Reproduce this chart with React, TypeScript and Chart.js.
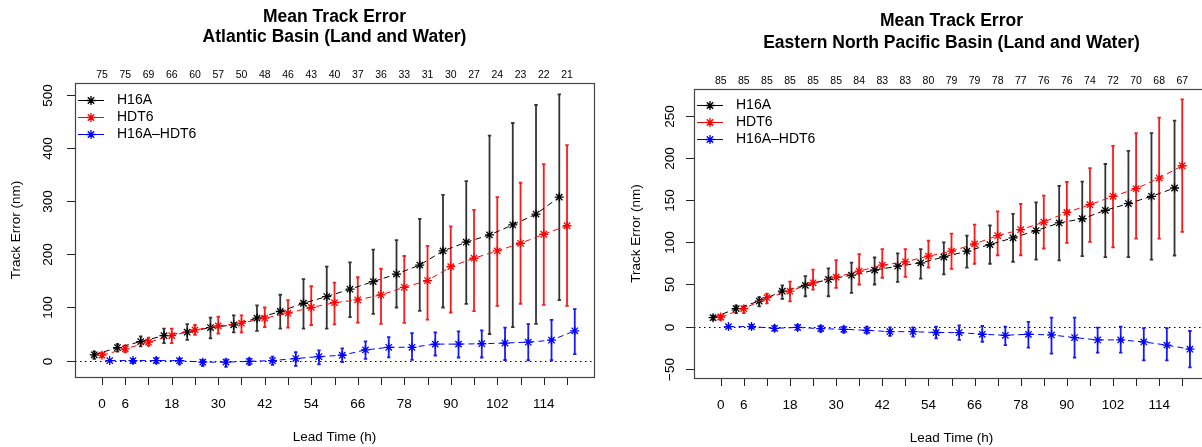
import React, { useEffect, useRef } from "react";
import { Chart, registerables } from "chart.js";

Chart.register(...registerables);

// ---------- data ----------
const leadTimes = [0, 6, 12, 18, 24, 30, 36, 42, 48, 54, 60, 66, 72, 78, 84, 90, 96, 102, 108, 114, 120];
const xTickValues = [0, 6, 12, 18, 24, 30, 36, 42, 48, 54, 60, 66, 72, 78, 84, 90, 96, 102, 108, 114, 120];
const xTickLabelValues = [0, 6, 18, 30, 42, 54, 66, 78, 90, 102, 114];

const atlCounts = [75, 75, 69, 66, 60, 57, 50, 48, 46, 43, 40, 37, 36, 33, 31, 30, 27, 24, 23, 22, 21];
const epacCounts = [85, 85, 85, 85, 85, 85, 84, 83, 83, 80, 79, 79, 78, 77, 76, 76, 74, 72, 70, 68, 67];

const atlYTicks = [0, 100, 200, 300, 400, 500];
const epacYTicks = [-50, 0, 50, 100, 150, 200, 250];

// Atlantic
const atlH16A = [10.8, 24.5, 35.8, 47, 53.4, 62.2, 67.2, 79.8, 92.4, 108, 120.6, 134.4, 148.8, 163, 180, 206.6, 223, 236.7, 255.6, 276, 308];
const atlH16ALo = [3, 17, 26.8, 33, 39, 42, 53, 56, 60, 60, 60, 81.7, 88, 100, 93.6, 100, 106.8, 50, 63, 69, 114];
const atlH16AHi = [17, 31, 45.7, 60, 68.5, 81, 85, 104, 124, 153.5, 177, 185, 209, 227, 267, 312, 338, 424, 447.6, 481.5, 501.7];
const atlHDT6 = [10.1, 22, 34.6, 47, 57.8, 65.3, 70.4, 79.8, 89.2, 100, 109, 114.3, 123.7, 138, 150.7, 177, 192.8, 206.6, 221, 238, 254];
const atlHDT6Lo = [6, 16, 28, 33, 48.5, 51, 53, 63, 62, 67, 68, 71.6, 69, 71, 77, 90.5, 93, 103, 107, 105, 103];
const atlHDT6Hi = [15, 28, 43, 60, 67, 82.5, 85, 100, 114, 140, 147, 157, 173, 197, 216, 253, 284, 308, 335, 370, 406];
const atlDiff = [0, 0, 0, -0.2, -3, -3, -1.5, 0, 3.8, 7.5, 10, 20, 25, 25, 31, 31, 31.7, 33, 34.6, 38.4, 56];
const atlDiffLo = [-1, -5, -5, -7, -10, -12, -8, -8, -10, -7, -3, 3, 6, 1.3, 9.5, 5.7, 5.7, 1, 0.6, 0.6, 12];
const atlDiffHi = [1, 3, 5, 4, 1, 2, 4, 7.5, 15.6, 19, 23, 36, 44, 51.6, 53, 55, 56.7, 62, 68.5, 76.6, 97];

// Eastern North Pacific
const epacH16A = [10.6, 21.3, 30.3, 42, 48.9, 56, 61, 67, 71.7, 75.7, 82.6, 89.5, 97.4, 105.3, 114, 123, 128, 138, 146, 154.6, 164.5];
const epacH16ALo = [8, 16, 24, 33, 36, 36, 40, 50, 53, 57, 62, 70, 74.6, 77, 79.6, 78.5, 83.6, 82.4, 82.4, 79.6, 84.4];
const epacH16AHi = [13, 25, 35, 49, 60, 69, 76, 82, 87, 92, 100, 108, 120, 133.7, 147.5, 167, 172, 193, 208.6, 229.6, 244.5];
const epacHDT6 = [11.4, 21.3, 34.3, 42, 52, 58.7, 65.8, 72.9, 76.9, 83.6, 89.5, 98.2, 108, 115, 124, 135.6, 144.7, 154.6, 163.7, 176.3, 190.9];
const epacHDT6Lo = [8, 16, 27.6, 30, 44, 46, 50, 58, 59, 70, 68.6, 74.6, 84.7, 84.7, 92.7, 99.4, 100.6, 94.2, 104.5, 104.5, 112.4];
const epacHDT6Hi = [13.5, 24, 39, 53.5, 67.6, 79, 86, 92, 92, 102, 110.4, 121, 136.8, 145.6, 155.4, 171.6, 188, 214.6, 229.6, 248, 269.8];
const epacDiff = [0, 0, -2, -1, -2.4, -3.2, -4.4, -6, -6, -7, -7.1, -9.1, -10.3, -9.1, -9.9, -13, -15.8, -15.8, -18.2, -22, -26.8];
const epacDiffLo = [-1, -2, -5, -4, -6, -7, -8, -11, -12, -14, -15.8, -18, -22, -24.9, -32, -36.7, -31, -31, -40, -40, -48.5];
const epacDiffHi = [1, 2, 1, 2, 1, 0, 0, -1, -1, 0, 1.5, 0.7, -0.1, 5.5, 10.6, 10.6, -1.1, 0, -1.8, -1.8, -5.2];

const seriesLabels = ["H16A", "HDT6", "H16A\u2013HDT6"];

// ---------- styles ----------
const SERIES_COLORS = ["#000000", "#ff0000", "#0000ff"];
const BAR_COLORS = ["rgba(0,0,0,0.8)", "rgba(255,0,0,0.9)", "rgba(0,0,255,0.9)"];
const SERIES_X_OFFSET = [-2, 0, 2];
const FONT = "'Liberation Sans', Arial, Helvetica, sans-serif";

type Series = { label: string; color: string; bar: string; offset: number; mean: number[]; lo: number[]; hi: number[] };
type Panel = {
  titles: string[];
  titleY: number[];
  counts: number[];
  countsY: number;
  yTicks: number[];
  yMin: number;
  yMax: number;
  yTickLabelX: number;
  yTitleX: number;
  xLabelY: number;
  xTitleY: number;
  legendX: number;
  legendY: number;
  width: number;
  left: number;
  padding: { left: number; right: number; top: number; bottom: number };
  series: Series[];
};

function makeSeries(sets: number[][][]): Series[] {
  return sets.map((s, k) => ({
    label: seriesLabels[k],
    color: SERIES_COLORS[k],
    bar: BAR_COLORS[k],
    offset: SERIES_X_OFFSET[k],
    mean: s[0],
    lo: s[1],
    hi: s[2],
  }));
}

const atlPanel: Panel = {
  titles: ["Mean Track Error", "Atlantic Basin (Land and Water)"],
  titleY: [17, 37],
  counts: atlCounts,
  countsY: 75,
  yTicks: atlYTicks,
  yMin: -31,
  yMax: 523,
  yTickLabelX: 48,
  yTitleX: 16,
  xLabelY: 404,
  xTitleY: 437,
  legendX: 78,
  legendY: 100.5,
  width: 601,
  left: 0,
  padding: { left: 75, right: 7, top: 83, bottom: 70 },
  series: makeSeries([
    [atlH16A, atlH16ALo, atlH16AHi],
    [atlHDT6, atlHDT6Lo, atlHDT6Hi],
    [atlDiff, atlDiffLo, atlDiffHi],
  ]),
};

const epacPanel: Panel = {
  titles: ["Mean Track Error", "Eastern North Pacific Basin (Land and Water)"],
  titleY: [21, 43],
  counts: epacCounts,
  countsY: 81,
  yTicks: epacYTicks,
  yMin: -61,
  yMax: 282,
  yTickLabelX: 69,
  yTitleX: 35,
  xLabelY: 405,
  xTitleY: 438,
  legendX: 96,
  legendY: 105.5,
  width: 620,
  left: 601,
  padding: { left: 93, right: 12, top: 89, bottom: 69 },
  series: makeSeries([
    [epacH16A, epacH16ALo, epacH16AHi],
    [epacHDT6, epacHDT6Lo, epacHDT6Hi],
    [epacDiff, epacDiffLo, epacDiffHi],
  ]),
};

function drawStar(ctx: CanvasRenderingContext2D, x: number, y: number, r: number) {
  ctx.beginPath();
  ctx.moveTo(x - r, y);
  ctx.lineTo(x + r, y);
  ctx.moveTo(x, y - r);
  ctx.lineTo(x, y + r);
  const d = r * Math.SQRT1_2;
  ctx.moveTo(x - d, y - d);
  ctx.lineTo(x + d, y + d);
  ctx.moveTo(x - d, y + d);
  ctx.lineTo(x + d, y - d);
  ctx.stroke();
}

function makeDecor(p: Panel) {
  return {
    id: "rdecor",
    beforeDatasetsDraw(chart: any) {
      const { ctx, chartArea: a, scales } = chart;
      const xs = scales.x;
      const ys = scales.y;
      ctx.save();
      // zero reference line
      const y0 = Math.round(ys.getPixelForValue(0)) + 0.5;
      ctx.beginPath();
      ctx.setLineDash([1.5, 3.5]);
      ctx.strokeStyle = "#000";
      ctx.lineWidth = 1.2;
      ctx.moveTo(a.left, y0);
      ctx.lineTo(a.right, y0);
      ctx.stroke();
      ctx.setLineDash([]);
      // error bars
      p.series.forEach((s) => {
        ctx.strokeStyle = s.bar;
        ctx.lineWidth = 1.8;
        leadTimes.forEach((L, i) => {
          const px = xs.getPixelForValue(L + s.offset);
          const pl = ys.getPixelForValue(s.lo[i]);
          const ph = ys.getPixelForValue(s.hi[i]);
          ctx.beginPath();
          ctx.moveTo(px, pl);
          ctx.lineTo(px, ph);
          ctx.moveTo(px - 1.7, pl);
          ctx.lineTo(px + 1.7, pl);
          ctx.moveTo(px - 1.7, ph);
          ctx.lineTo(px + 1.7, ph);
          ctx.stroke();
        });
      });
      ctx.restore();
    },
    afterDraw(chart: any) {
      const { ctx, chartArea: a, scales } = chart;
      const xs = scales.x;
      const ys = scales.y;
      const cx = (a.left + a.right) / 2;
      ctx.save();
      // box
      ctx.strokeStyle = "#444";
      ctx.lineWidth = 1.2;
      ctx.strokeRect(Math.round(a.left) + 0.5, Math.round(a.top) + 0.5, Math.round(a.right - a.left), Math.round(a.bottom - a.top));

      ctx.fillStyle = "#000";
      ctx.strokeStyle = "#222";
      ctx.lineWidth = 1;
      // y ticks
      p.yTicks.forEach((v) => {
        const py = Math.round(ys.getPixelForValue(v)) + 0.5;
        ctx.beginPath();
        ctx.moveTo(a.left - 8, py);
        ctx.lineTo(a.left, py);
        ctx.stroke();
        ctx.save();
        ctx.translate(p.yTickLabelX, py);
        ctx.rotate(-Math.PI / 2);
        ctx.font = `13.5px ${FONT}`;
        ctx.textAlign = "center";
        ctx.textBaseline = "middle";
        ctx.fillText(String(v).replace("-", "\u2212"), 0, 0);
        ctx.restore();
      });
      // x ticks
      xTickValues.forEach((v) => {
        const px = Math.round(xs.getPixelForValue(v)) + 0.5;
        ctx.beginPath();
        ctx.moveTo(px, a.bottom + 1);
        ctx.lineTo(px, a.bottom + 8);
        ctx.stroke();
      });
      ctx.font = `13.5px ${FONT}`;
      ctx.textAlign = "center";
      ctx.textBaseline = "middle";
      xTickLabelValues.forEach((v) => {
        ctx.fillText(String(v), xs.getPixelForValue(v), p.xLabelY);
      });
      // counts on top
      ctx.font = `10.5px ${FONT}`;
      leadTimes.forEach((L, i) => {
        ctx.fillText(String(p.counts[i]), xs.getPixelForValue(L), p.countsY);
      });
      // axis titles
      ctx.font = `13.5px ${FONT}`;
      ctx.fillText("Lead Time (h)", cx, p.xTitleY);
      ctx.save();
      ctx.translate(p.yTitleX, (a.top + a.bottom) / 2);
      ctx.rotate(-Math.PI / 2);
      ctx.fillText("Track Error (nm)", 0, 0);
      ctx.restore();
      // titles
      ctx.font = `bold 17.5px ${FONT}`;
      p.titles.forEach((t, k) => ctx.fillText(t, cx, p.titleY[k]));
      // legend
      ctx.font = `14px ${FONT}`;
      ctx.textAlign = "left";
      p.series.forEach((s, k) => {
        const ly = p.legendY + k * 17;
        ctx.strokeStyle = s.color;
        ctx.lineWidth = 1;
        ctx.beginPath();
        ctx.moveTo(p.legendX, ly);
        ctx.lineTo(p.legendX + 26, ly);
        ctx.stroke();
        ctx.lineWidth = 1.3;
        drawStar(ctx, p.legendX + 13, ly, 4.5);
        ctx.fillStyle = "#000";
        ctx.fillText(s.label, p.legendX + 39, ly);
      });
      ctx.restore();
    },
  };
}

function PanelChart({ panel }: { panel: Panel }) {
  const ref = useRef<HTMLCanvasElement | null>(null);
  useEffect(() => {
    if (!ref.current) return;
    const chart = new Chart(ref.current, {
      type: "line",
      data: {
        datasets: panel.series.map((s, k) => ({
          label: s.label,
          data: leadTimes.map((L, i) => ({ x: L + s.offset, y: s.mean[i] })),
          borderColor: s.color,
          backgroundColor: s.color,
          borderWidth: 1,
          borderDash: [6, 4],
          pointStyle: "star",
          pointRadius: 4.5,
          pointBorderWidth: 1.3,
          pointBorderColor: s.color,
          pointBackgroundColor: s.color,
          tension: 0,
          order: 3 - k,
        })),
      },
      options: {
        responsive: false,
        maintainAspectRatio: false,
        animation: false,
        events: [],
        layout: { padding: panel.padding },
        plugins: { legend: { display: false }, tooltip: { enabled: false } },
        scales: {
          x: { type: "linear", min: -6.96, max: 126.96, display: false },
          y: { type: "linear", min: panel.yMin, max: panel.yMax, display: false },
        },
      },
      plugins: [makeDecor(panel)],
    } as any);
    return () => chart.destroy();
  }, [panel]);
  return (
    <canvas
      ref={ref}
      width={panel.width}
      height={447}
      style={{ position: "absolute", left: panel.left, top: 0, width: panel.width, height: 447 }}
    />
  );
}

export default function App() {
  return (
    <div
      style={{
        position: "absolute",
        left: 0,
        top: 0,
        width: 1202,
        height: 447,
        overflow: "hidden",
        background: "#fff",
      }}
    >
      <PanelChart panel={atlPanel} />
      <PanelChart panel={epacPanel} />
    </div>
  );
}
